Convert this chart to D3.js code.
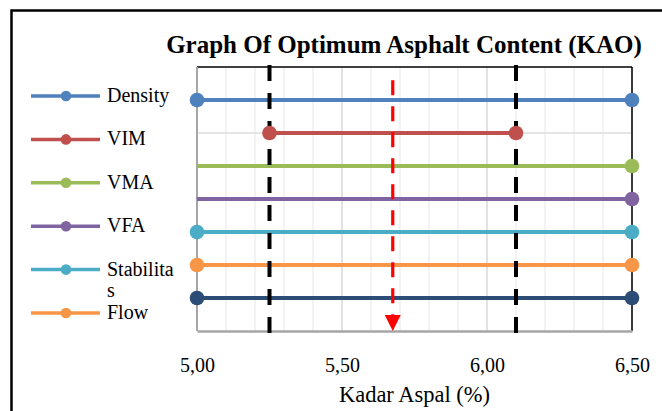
<!DOCTYPE html>
<html>
<head>
<meta charset="utf-8">
<script src="https://cdn.jsdelivr.net/npm/d3@7/dist/d3.min.js"></script>
<style>
  html, body { margin: 0; padding: 0; background: #fff; }
  svg { display: block; }
</style>
</head>
<body>
<svg id="chart" width="662" height="411"></svg>
<script>
// Parameter ranges that satisfy the Marshall specifications
const seriesNames  = ["Density", "VIM", "VMA", "VFA", "Stabilitas", "Flow", "MQ"];
const seriesColors = ["#4F81BD", "#C0504D", "#9BBB59", "#8064A2", "#4BACC6", "#F79646", "#2C4D75"];
const rangeStart   = [5.00, 5.25, 4.80, 4.80, 5.00, 5.00, 5.00];
const rangeEnd     = [6.50, 6.10, 6.50, 6.50, 6.50, 6.50, 6.50];
const rowLevel     = [7, 6, 5, 4, 3, 2, 1];
const legendCount  = 6;

// Asphalt content axis
const xTicks      = [5.00, 5.50, 6.00, 6.50];
const xTickLabels = ["5,00", "5,50", "6,00", "6,50"];

// Common range bounds and the optimum asphalt content (KAO)
const kaoLower = 5.25;
const kaoUpper = 6.10;
const kao = (kaoLower + kaoUpper) / 2;

const svg = d3.select("#chart");
const serif = "'Liberation Serif', 'Times New Roman', serif";

const plot = { left: 197, right: 632, top: 67, bottom: 331 };
const x = d3.scaleLinear().domain([5.0, 6.5]).range([plot.left, plot.right]);
const y = d3.scaleLinear().domain([0, 8]).range([plot.bottom, plot.top]);

// outer frame
svg.append("rect")
  .attr("x", 11.5).attr("y", 10.5)
  .attr("width", 700).attr("height", 450)
  .attr("fill", "none").attr("stroke", "#000").attr("stroke-width", 2.5);

svg.append("defs").append("clipPath").attr("id", "plotClip")
  .append("rect")
  .attr("x", plot.left).attr("y", plot.top)
  .attr("width", plot.right - plot.left).attr("height", plot.bottom - plot.top);

// gridlines
const minorTicks = d3.range(50, 66).map(d => d / 10);
svg.append("g").selectAll("line").data(minorTicks).join("line")
  .attr("x1", d => x(d)).attr("x2", d => x(d))
  .attr("y1", plot.top).attr("y2", plot.bottom)
  .attr("stroke", d => xTicks.some(t => Math.abs(t - d) < 1e-6) ? "#d9d9d9" : "#efefef")
  .attr("stroke-width", 1.5);

svg.append("g").selectAll("line").data(d3.range(1, 8)).join("line")
  .attr("x1", plot.left).attr("x2", plot.right)
  .attr("y1", d => y(d)).attr("y2", d => y(d))
  .attr("stroke", "#dcdcdc").attr("stroke-width", 1.5);

// plot area edges
svg.append("line")
  .attr("x1", plot.left).attr("x2", plot.right)
  .attr("y1", plot.top).attr("y2", plot.top)
  .attr("stroke", "#000").attr("stroke-width", 1.5);
svg.append("line")
  .attr("x1", plot.right).attr("x2", plot.right)
  .attr("y1", plot.top).attr("y2", plot.bottom)
  .attr("stroke", "#000").attr("stroke-width", 1.5);
svg.append("line")
  .attr("x1", plot.left).attr("x2", plot.left)
  .attr("y1", plot.top).attr("y2", plot.bottom)
  .attr("stroke", "#a6a6a6").attr("stroke-width", 2);

// x axis
const xAxis = d3.axisBottom(x)
  .tickValues(xTicks)
  .tickFormat((d, i) => xTickLabels[i])
  .tickSize(0)
  .tickPadding(27);
const axisG = svg.append("g")
  .attr("transform", `translate(0,${plot.bottom})`)
  .call(xAxis);
axisG.select(".domain").attr("stroke", "#a6a6a6").attr("stroke-width", 2.5);
axisG.selectAll("text")
  .attr("font-family", serif).attr("font-size", 20).attr("fill", "#000");

svg.append("text")
  .attr("x", (plot.left + plot.right) / 2).attr("y", 402)
  .attr("text-anchor", "middle")
  .attr("font-family", serif).attr("font-size", 22.5)
  .text("Kadar Aspal (%)");

// title
svg.append("text")
  .attr("x", 404).attr("y", 53)
  .attr("text-anchor", "middle")
  .attr("font-family", serif).attr("font-size", 25).attr("font-weight", "bold")
  .text("Graph Of Optimum Asphalt Content (KAO)");

// range bars
const rows = seriesNames.map((name, i) => ({
  name, color: seriesColors[i], start: rangeStart[i], end: rangeEnd[i], level: rowLevel[i]
}));

const lineG = svg.append("g").attr("clip-path", "url(#plotClip)");
lineG.selectAll("line").data(rows).join("line")
  .attr("x1", d => x(d.start)).attr("x2", d => x(d.end))
  .attr("y1", d => y(d.level)).attr("y2", d => y(d.level))
  .attr("stroke", d => d.color).attr("stroke-width", 4);

// common-range limits
svg.append("g").selectAll("line").data([kaoLower, kaoUpper]).join("line")
  .attr("x1", d => x(d)).attr("x2", d => x(d))
  .attr("y1", y(8) - 2).attr("y2", y(0) + 2)
  .attr("stroke", "#000").attr("stroke-width", 4)
  .attr("stroke-dasharray", "16,12");

// markers (only those inside the axis range)
const pts = [];
rows.forEach(r => {
  [r.start, r.end].forEach(v => {
    if (v >= 5.0 - 1e-9 && v <= 6.5 + 1e-9) pts.push({ v, level: r.level, color: r.color });
  });
});
svg.append("g").selectAll("circle").data(pts).join("circle")
  .attr("cx", d => x(d.v)).attr("cy", d => y(d.level))
  .attr("r", 7.3).attr("fill", d => d.color);

// optimum content arrow
const arrowTip = y(0);
const arrowLen = 16;
svg.append("line")
  .attr("x1", x(kao)).attr("x2", x(kao))
  .attr("y1", y(7.6)).attr("y2", arrowTip - arrowLen + 2)
  .attr("stroke", "#ff0000").attr("stroke-width", 3.2)
  .attr("stroke-dasharray", "15,11");
svg.append("path")
  .attr("d", d3.line()([
    [x(kao) - 8, arrowTip - arrowLen],
    [x(kao) + 8, arrowTip - arrowLen],
    [x(kao), arrowTip]
  ]) + "Z")
  .attr("fill", "#ff0000");

// legend
const legend = svg.append("g");
const legendRows = rows.slice(0, legendCount);
const legendY = i => 96 + i * 43.4;
legendRows.forEach((r, i) => {
  const g = legend.append("g").attr("transform", `translate(0,${legendY(i)})`);
  g.append("line").attr("x1", 31).attr("x2", 100).attr("y1", 0).attr("y2", 0)
    .attr("stroke", r.color).attr("stroke-width", 3.5);
  g.append("circle").attr("cx", 66).attr("cy", 0).attr("r", 5.3).attr("fill", r.color);
  const t = g.append("text")
    .attr("x", 107).attr("y", 6)
    .attr("font-family", serif).attr("font-size", 20).attr("fill", "#000");
  if (r.name === "Stabilitas") {
    // wrapped across two lines within the legend width
    t.append("tspan").attr("x", 107).attr("dy", 0).text("Stabilita");
    t.append("tspan").attr("x", 107).attr("dy", 21).text("s");
  } else {
    t.text(r.name);
  }
});
</script>
</body>
</html>
